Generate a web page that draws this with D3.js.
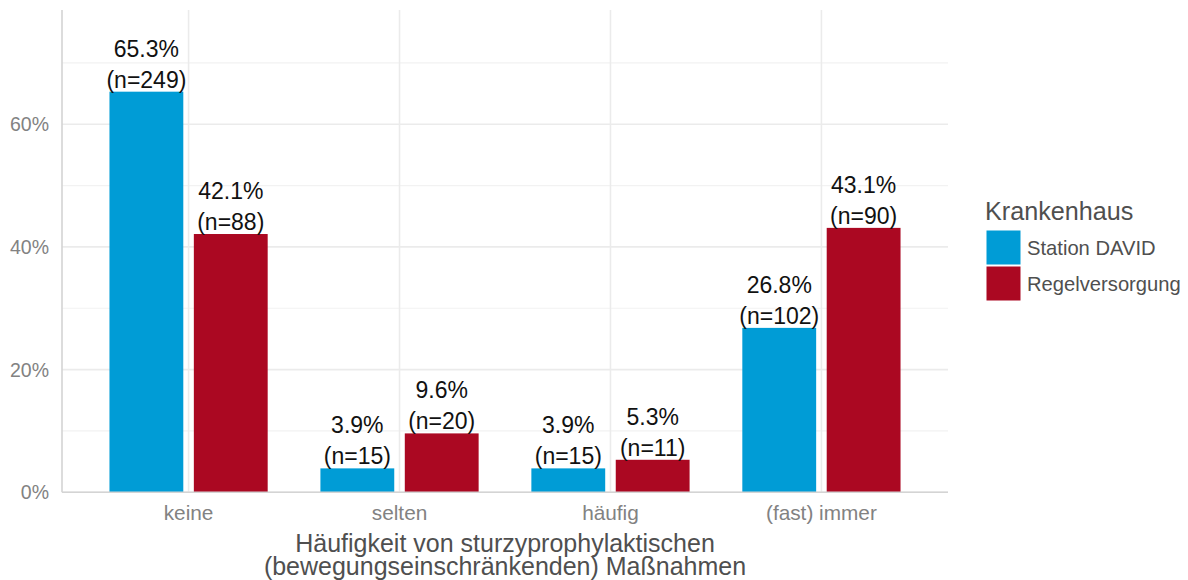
<!DOCTYPE html>
<html><head><meta charset="utf-8">
<script src="https://cdn.jsdelivr.net/npm/d3@7"></script>
<style>
html,body{margin:0;padding:0;background:#fff;}
svg{display:block;font-family:"Liberation Sans",Arial,sans-serif;}
</style></head>
<body>
<svg id="chart" width="1188" height="580"></svg>
<script>
const categories = ["keine", "selten", "häufig", "(fast) immer"];
const seriesNames = ["Station DAVID", "Regelversorgung"];
const seriesColors = ["#009cd6", "#ab0822"];
const davidPct = [65.3, 3.9, 3.9, 26.8];
const davidN = [249, 15, 15, 102];
const regelPct = [42.1, 9.6, 5.3, 43.1];
const regelN = [88, 20, 11, 90];
const yTicks = [0, 20, 40, 60];
const yMinor = [10, 30, 50, 70];
const xTitle = ["Häufigkeit von sturzyprophylaktischen", "(bewegungseinschränkenden) Maßnahmen"];
const legendTitle = "Krankenhaus";

(function () {
const svg = d3.select("#chart");
const pLeft = 62, pRight = 948, pTop = 10, pBottom = 492.3;

const x = d3.scaleBand().domain(categories).range([pLeft, pRight]).paddingOuter(0.1).paddingInner(0);
const step = x.step();
const y = d3.scaleLinear().domain([0, (pBottom - pTop) / 6.135]).range([pBottom, pTop]);

const rows = [];
categories.forEach((c, i) => {
  rows.push({cat: c, s: 0, pct: davidPct[i], n: davidN[i]});
  rows.push({cat: c, s: 1, pct: regelPct[i], n: regelN[i]});
});

const g = svg.append("g");
g.selectAll(".minor").data(yMinor).join("line")
  .attr("x1", pLeft).attr("x2", pRight)
  .attr("y1", d => y(d)).attr("y2", d => y(d))
  .attr("stroke", "#f2f2f2").attr("stroke-width", 1.2);
g.selectAll(".major").data(yTicks).join("line")
  .attr("x1", pLeft).attr("x2", pRight)
  .attr("y1", d => y(d)).attr("y2", d => y(d))
  .attr("stroke", "#ebebeb").attr("stroke-width", 1.6);
g.selectAll(".vg").data(categories).join("line")
  .attr("x1", d => x(d) + step / 2).attr("x2", d => x(d) + step / 2)
  .attr("y1", pTop).attr("y2", pBottom)
  .attr("stroke", "#ebebeb").attr("stroke-width", 1.6);

const bw = step * 0.35;
const cx = d => x(d.cat) + step / 2 + (d.s === 0 ? -0.2 : 0.2) * step;
g.selectAll(".bar").data(rows).join("rect")
  .attr("x", d => cx(d) - bw / 2)
  .attr("width", bw)
  .attr("y", d => y(d.pct))
  .attr("height", d => pBottom - y(d.pct))
  .attr("fill", d => seriesColors[d.s]);

g.append("line").attr("x1", pLeft).attr("x2", pLeft).attr("y1", pTop).attr("y2", pBottom)
  .attr("stroke", "#d4d4d4").attr("stroke-width", 1.6);
g.append("line").attr("x1", pLeft).attr("x2", pRight).attr("y1", pBottom).attr("y2", pBottom)
  .attr("stroke", "#d4d4d4").attr("stroke-width", 1.6);

const lab = g.selectAll(".lab").data(rows).join("g")
  .attr("transform", d => `translate(${cx(d)},${y(d.pct)})`);
lab.append("text").attr("y", -35).attr("text-anchor", "middle")
  .attr("font-size", 23).attr("fill", "#111")
  .text(d => d.pct.toFixed(1) + "%");
lab.append("text").attr("y", -4).attr("text-anchor", "middle")
  .attr("font-size", 23).attr("fill", "#111")
  .text(d => "(n=" + d.n + ")");

g.selectAll(".yt").data(yTicks).join("text")
  .attr("x", 49).attr("y", d => y(d) + 7)
  .attr("text-anchor", "end").attr("font-size", 19.5).attr("fill", "#828282")
  .text(d => d + "%");

g.selectAll(".xt").data(categories).join("text")
  .attr("x", d => x(d) + step / 2).attr("y", 520)
  .attr("text-anchor", "middle").attr("font-size", 20.8).attr("fill", "#828282")
  .text(d => d);

const xt = g.append("text")
  .attr("text-anchor", "middle").attr("font-size", 25).attr("fill", "#4f4f4f");
xt.selectAll("tspan").data(xTitle).join("tspan")
  .attr("x", (pLeft + pRight) / 2).attr("y", (d, i) => 551.5 + i * 23)
  .text(d => d);

const lg = svg.append("g");
lg.append("text").attr("x", 985).attr("y", 220).attr("font-size", 25.2).attr("fill", "#4f4f4f").text(legendTitle);
seriesNames.forEach((s, i) => {
  lg.append("rect").attr("x", 986.5).attr("y", 230.5 + i * 36).attr("width", 34).attr("height", 34)
    .attr("fill", seriesColors[i]);
  lg.append("text").attr("x", 1027).attr("y", 255 + i * 36).attr("font-size", 20.2).attr("fill", "#4f4f4f").text(s);
});
})();
</script>
</body></html>
